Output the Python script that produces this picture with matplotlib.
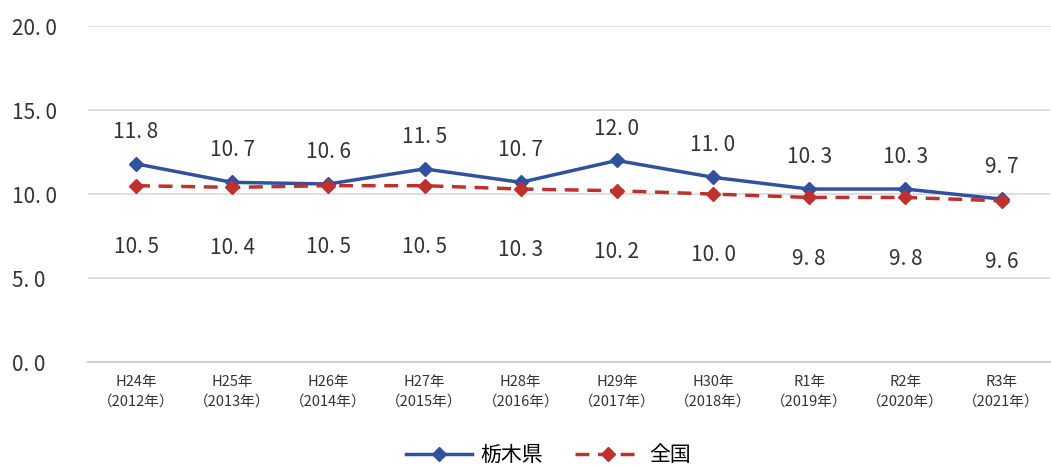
import matplotlib
matplotlib.use("Agg")
import matplotlib.pyplot as plt

plt.rcParams['font.family'] = ['Noto Sans CJK JP', 'DejaVu Sans']

# data
categories = ['H24年\n（2012年）', 'H25年\n（2013年）', 'H26年\n（2014年）', 'H27年\n（2015年）',
              'H28年\n（2016年）', 'H29年\n（2017年）', 'H30年\n（2018年）', 'R1年\n（2019年）',
              'R2年\n（2020年）', 'R3年\n（2021年）']
tochigi = [11.8, 10.7, 10.6, 11.5, 10.7, 12.0, 11.0, 10.3, 10.3, 9.7]
zenkoku = [10.5, 10.4, 10.5, 10.5, 10.3, 10.2, 10.0, 9.8, 9.8, 9.6]
yticks = [0, 5, 10, 15, 20]

blue = '#3050a0'
red = '#c0302c'

fig = plt.figure(figsize=(10.51, 4.66), dpi=100)
ax = fig.add_axes([0.0837, 0.223, 0.915, 0.721])

x = list(range(len(categories)))
ax.plot(x, tochigi, color=blue, lw=2.5, marker='D', ms=7, label='栃木県', zorder=3)
ax.plot(x, zenkoku, color=red, lw=2.5, ls=(0, (4, 2.5)), marker='D', ms=7, label='全国', zorder=4)

def fmt(v):
    return ('%.1f' % v).replace('.', '. ')

for i, v in enumerate(tochigi):
    ax.annotate(fmt(v), (i, v), xytext=(0, 23), textcoords='offset points',
                ha='center', va='center', fontsize=15, color='#333333')
for i, v in enumerate(zenkoku):
    ax.annotate(fmt(v), (i, v), xytext=(0, -44), textcoords='offset points',
                ha='center', va='center', fontsize=15, color='#333333')

ax.set_xlim(-0.5, len(categories) - 0.5)
ax.set_ylim(0, 20)
ax.set_yticks(yticks)
ax.set_yticklabels([fmt(v) for v in yticks], fontsize=15, color='#333333')
ax.set_xticks(x)
ax.set_xticklabels(categories, fontsize=10.5, color='#333333', linespacing=1.55)
ax.tick_params(length=0)
ax.tick_params(axis='y', pad=55)
ax.tick_params(axis='x', pad=9)
for lbl in ax.get_yticklabels():
    lbl.set_horizontalalignment('left')

ax.grid(axis='y', color='#d9d9d9', lw=1.2)
ax.set_axisbelow(True)
for s in ['top', 'right', 'left']:
    ax.spines[s].set_visible(False)
ax.spines['bottom'].set_color('#d0d0d0')
ax.spines['bottom'].set_linewidth(1.5)

fig.legend(loc='lower center', ncol=2, frameon=False, fontsize=15,
           handlelength=3.2, handletextpad=0.4, columnspacing=1.5,
           bbox_to_anchor=(0.522, -0.04))

fig.savefig('out.png', dpi=100)
